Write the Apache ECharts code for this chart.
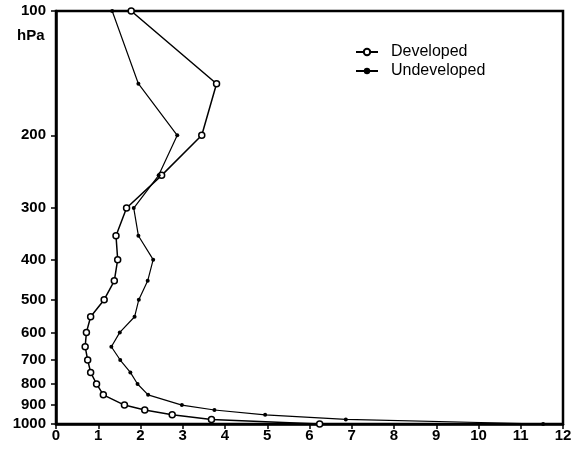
<!DOCTYPE html>
<html>
<head>
<meta charset="utf-8">
<script src="https://cdn.jsdelivr.net/npm/echarts@6/dist/echarts.min.js"></script>
<style>
  html, body { margin: 0; padding: 0; background: #fff; }
  #chart { width: 576px; height: 450px; }
</style>
</head>
<body>
<div id="chart"></div>
<script>
// Pressure levels (hPa), top of profile to surface
const levels = [100, 150, 200, 250, 300, 350, 400, 450, 500, 550, 600, 650, 700, 750, 800, 850, 900, 925, 950, 975, 1000];
const developed = [1.78, 3.80, 3.45, 2.50, 1.67, 1.42, 1.46, 1.38, 1.14, 0.82, 0.72, 0.69, 0.75, 0.82, 0.96, 1.12, 1.62, 2.10, 2.75, 3.68, 6.24];
const undeveloped = [1.33, 1.95, 2.87, 2.43, 1.84, 1.95, 2.30, 2.17, 1.96, 1.86, 1.51, 1.31, 1.52, 1.76, 1.93, 2.18, 2.98, 3.75, 4.95, 6.86, 11.53];
const pressureTicks = [100, 200, 300, 400, 500, 600, 700, 800, 900, 1000];

// pressure is plotted on a log10 scale, increasing downward
const lg = v => Math.log10(v);
const toPairs = vals => vals.map((v, i) => [v, lg(levels[i])]);

const FONT = '"Liberation Sans", Arial, sans-serif';
const chart = echarts.init(document.getElementById('chart'), null, { renderer: 'canvas' });

chart.setOption({
  animation: false,
  backgroundColor: '#fff',
  grid: { left: 56, right: 13, top: 11, bottom: 26, show: true, borderColor: '#000', borderWidth: 2.5 },
  legend: {
    left: 350, top: 39, orient: 'vertical', itemGap: 3, itemWidth: 22, itemHeight: 8,
    textStyle: { fontFamily: FONT, fontSize: 16, color: '#000', padding: [0, 0, 0, 8] },
    data: ['Developed', 'Undeveloped']
  },
  xAxis: {
    type: 'value', min: 0, max: 12, interval: 1,
    axisLine: { show: true, lineStyle: { color: '#000', width: 2.5 } },
    axisTick: { show: true, length: 5, lineStyle: { color: '#000', width: 1.5 } },
    axisLabel: { fontFamily: FONT, fontSize: 15, fontWeight: 'bold', color: '#000', margin: 4 },
    splitLine: { show: false }
  },
  yAxis: {
    type: 'value', min: 2, max: 3, inverse: true,
    axisLine: { show: true, lineStyle: { color: '#000', width: 2.5 } },
    axisTick: { show: true, length: 5, customValues: pressureTicks.map(lg), lineStyle: { color: '#000', width: 1.5 } },
    axisLabel: {
      fontFamily: FONT, fontSize: 15, fontWeight: 'bold', color: '#000', margin: 10,
      customValues: pressureTicks.map(lg),
      formatter: v => String(Math.round(Math.pow(10, v)))
    },
    splitLine: { show: false }
  },
  series: [
    {
      name: 'Developed', type: 'line', data: toPairs(developed),
      symbol: 'circle', symbolSize: 6, showAllSymbol: true,
      lineStyle: { color: '#000', width: 1.5 },
      itemStyle: { color: '#fff', borderColor: '#000', borderWidth: 1.5 },
      emphasis: { disabled: true }
    },
    {
      name: 'Undeveloped', type: 'line', data: toPairs(undeveloped),
      symbol: 'circle', symbolSize: 4, showAllSymbol: true,
      lineStyle: { color: '#000', width: 1.2 },
      itemStyle: { color: '#000' },
      emphasis: { disabled: true }
    }
  ],
  graphic: [
    { type: 'text', left: 17, top: 28, style: { text: 'hPa', font: 'bold 15px ' + FONT, fill: '#000' } }
  ]
});
</script>
</body>
</html>
